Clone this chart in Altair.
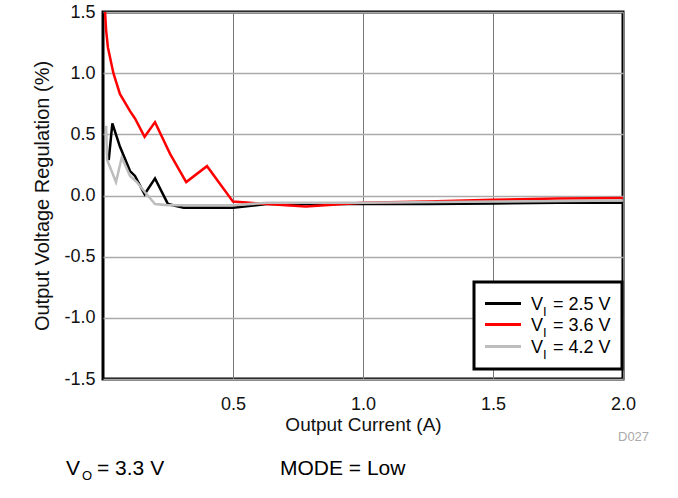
import altair as alt
import pandas as pd

# ---- data ----
x_25 = [0.022, 0.036, 0.065, 0.104, 0.123, 0.16, 0.20, 0.25, 0.31, 0.40, 0.50, 0.63, 0.80, 1.00, 1.25, 1.50, 1.75, 2.00]
y_25 = [0.29, 0.59, 0.40, 0.20, 0.16, 0.01, 0.14, -0.07, -0.10, -0.10, -0.10, -0.07, -0.07, -0.07, -0.07, -0.065, -0.06, -0.06]

x_36 = [0.008, 0.012, 0.019, 0.040, 0.065, 0.104, 0.123, 0.16, 0.20, 0.258, 0.32, 0.40, 0.50, 0.63, 0.78, 1.00, 1.25, 1.50, 1.75, 2.00]
y_36 = [1.50, 1.35, 1.21, 1.00, 0.83, 0.69, 0.63, 0.48, 0.60, 0.34, 0.11, 0.24, -0.05, -0.07, -0.09, -0.06, -0.05, -0.035, -0.025, -0.02]

x_42 = [0.012, 0.016, 0.050, 0.072, 0.104, 0.130, 0.16, 0.20, 0.25, 0.40, 0.50, 0.63, 1.00, 1.50, 2.00]
y_42 = [0.57, 0.29, 0.11, 0.31, 0.16, 0.11, 0.03, -0.07, -0.08, -0.08, -0.08, -0.06, -0.06, -0.05, -0.04]

series_names = ["2.5", "3.6", "4.2"]
series_colors = ["#000000", "#ff0000", "#bdbdbd"]
legend_values = ["= 2.5 V", "= 3.6 V", "= 4.2 V"]

y_ticks = [-1.5, -1.0, -0.5, 0.0, 0.5, 1.0, 1.5]
x_ticks = [0.5, 1.0, 1.5, 2.0]

rows = []
for name, xs, ys in [("2.5", x_25, y_25), ("3.6", x_36, y_36), ("4.2", x_42, y_42)]:
    for i, (a, b) in enumerate(zip(xs, ys)):
        rows.append({"current": a, "reg": b, "vin": name, "idx": i})
df = pd.DataFrame(rows)

W, H = 520, 367
FONT = "Liberation Sans"
LABEL_EXPR = "datum.value < 0 ? '-' + format(-datum.value, '.1f') : format(datum.value, '.1f')"

lines = alt.Chart(df).mark_line(strokeWidth=2.5).encode(
    x=alt.X("current:Q", scale=alt.Scale(domain=[0, 2], nice=False),
            axis=alt.Axis(values=x_ticks, labelExpr=LABEL_EXPR, title="Output Current (A)",
                          ticks=False, domain=False, labelPadding=16, titlePadding=2,
                          labelFlush=False, gridColor="#777777", gridWidth=1)),
    y=alt.Y("reg:Q", scale=alt.Scale(domain=[-1.5, 1.5], nice=False),
            axis=alt.Axis(values=y_ticks, labelExpr=LABEL_EXPR, title="Output Voltage Regulation (%)",
                          ticks=False, domain=False, labelPadding=8, titlePadding=11,
                          labelFlush=False, gridColor="#aaaaaa", gridWidth=1.5)),
    color=alt.Color("vin:N", scale=alt.Scale(domain=series_names, range=series_colors), legend=None),
    order="idx:Q",
)

layers = [lines]

# legend box
layers.append(alt.Chart(pd.DataFrame({"a": [0]})).mark_rect(
    fill="white", stroke="black", strokeWidth=3).encode(
    x=alt.value(371), x2=alt.value(519), y=alt.value(270), y2=alt.value(357)))

row_y = [291.5, 312.5, 334.5]
for i in range(3):
    layers.append(alt.Chart(pd.DataFrame({"a": [0]})).mark_rule(
        color=series_colors[i], strokeWidth=3).encode(
        x=alt.value(382), x2=alt.value(418), y=alt.value(row_y[i])))
    layers.append(alt.Chart(pd.DataFrame({"t": ["V"]})).mark_text(
        font=FONT, fontSize=18, align="left", baseline="alphabetic", color="black").encode(
        x=alt.value(428), y=alt.value(row_y[i] + 6.5), text="t:N"))
    layers.append(alt.Chart(pd.DataFrame({"t": ["I"]})).mark_text(
        font=FONT, fontSize=13, align="left", baseline="alphabetic", color="black").encode(
        x=alt.value(440), y=alt.value(row_y[i] + 12), text="t:N"))
    layers.append(alt.Chart(pd.DataFrame({"t": [legend_values[i]]})).mark_text(
        font=FONT, fontSize=18, align="left", baseline="alphabetic", color="black").encode(
        x=alt.value(450), y=alt.value(row_y[i] + 6.5), text="t:N"))

# D027 tag
layers.append(alt.Chart(pd.DataFrame({"t": ["D027"]})).mark_text(
    font=FONT, fontSize=13, align="left", baseline="middle", color="#aaaaaa").encode(
    x=alt.value(515), y=alt.value(425), text="t:N"))

# bottom notes
layers.append(alt.Chart(pd.DataFrame({"t": ["V"]})).mark_text(
    font=FONT, fontSize=21, align="left", baseline="alphabetic", color="black").encode(
    x=alt.value(-37), y=alt.value(463), text="t:N"))
layers.append(alt.Chart(pd.DataFrame({"t": ["O"]})).mark_text(
    font=FONT, fontSize=13, align="left", baseline="alphabetic", color="black").encode(
    x=alt.value(-21), y=alt.value(468), text="t:N"))
layers.append(alt.Chart(pd.DataFrame({"t": ["= 3.3 V"]})).mark_text(
    font=FONT, fontSize=21, align="left", baseline="alphabetic", color="black").encode(
    x=alt.value(-6), y=alt.value(463), text="t:N"))
layers.append(alt.Chart(pd.DataFrame({"t": ["MODE = Low"]})).mark_text(
    font=FONT, fontSize=21, align="left", baseline="alphabetic", color="black").encode(
    x=alt.value(177), y=alt.value(463), text="t:N"))

chart = alt.layer(*layers).properties(
    width=W, height=H,
    autosize=alt.AutoSizeParams(type="none"),
    padding={"left": 103, "top": 12, "right": 55, "bottom": 119},
    background="white",
).configure_view(
    stroke="black", strokeWidth=3
).configure_axis(
    labelFont=FONT, titleFont=FONT, labelFontSize=18, labelColor="#111111",
    titleColor="#111111", titleFontWeight="normal",
).configure_axisX(titleFontSize=19).configure_axisY(titleFontSize=20)

chart.save("out.html", embed_options={"renderer": "svg", "actions": False})
